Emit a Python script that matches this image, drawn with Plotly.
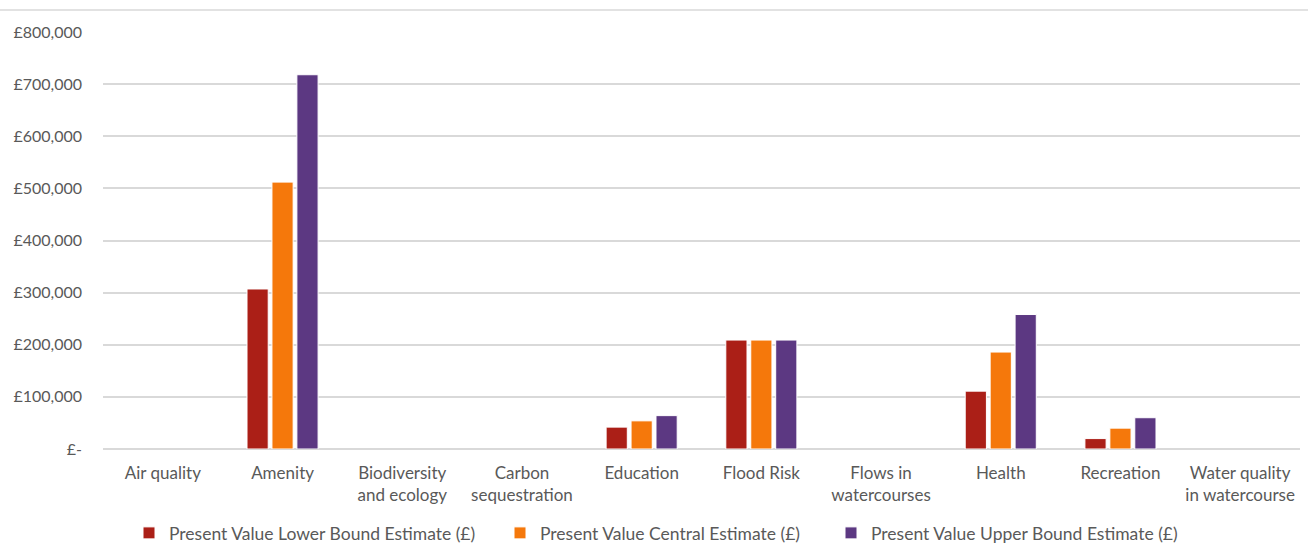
import plotly.graph_objects as go

categories = ["Air quality", "Amenity", "Biodiversity<br>and ecology", "Carbon<br>sequestration",
              "Education", "Flood Risk", "Flows in<br>watercourses", "Health", "Recreation",
              "Water quality<br>in watercourse"]
lower = [None, 307000, None, None, 42000, 209000, None, 111000, 20000, None]
central = [None, 512000, None, None, 54000, 209000, None, 186000, 40000, None]
upper = [None, 718000, None, None, 64000, 209000, None, 258000, 60000, None]
series_names = ["Present Value Lower Bound Estimate (£)",
                "Present Value Central Estimate (£)",
                "Present Value Upper Bound Estimate (£)"]
colors = ["#AB1F17", "#F5780B", "#5C3882"]
tick_vals = [0, 100000, 200000, 300000, 400000, 500000, 600000, 700000, 800000]
tick_text = ["£-", "£100,000", "£200,000", "£300,000", "£400,000", "£500,000",
             "£600,000", "£700,000", "£800,000"]

W, H = 1308, 545
ml, mr, mt, mb = 103, 8, 32, 96
pw, ph = W - ml - mr, H - mt - mb

legend_px = [141, 512, 843]
legend_ids = ["legend", "legend2", "legend3"]

fig = go.Figure()
for name, vals, c, lid in zip(series_names, [lower, central, upper], colors, legend_ids):
    fig.add_trace(go.Bar(x=categories, y=vals, name=name, legend=lid,
                         marker=dict(color=c, line=dict(color="#FFFFFF", width=1))))

legend_common = dict(orientation="h", y=(449 - 533) / ph, yanchor="middle", xanchor="left",
                     font=dict(size=17.5, color="#595959"), bgcolor="rgba(0,0,0,0)")
legends = {}
for lid, px in zip(legend_ids, legend_px):
    legends[lid] = dict(x=(px - ml - 12) / pw, **legend_common)

fig.update_layout(
    width=W, height=H,
    margin=dict(l=ml, r=mr, t=mt, b=mb, autoexpand=False),
    plot_bgcolor="white", paper_bgcolor="white",
    font=dict(family="Lato, Carlito, sans-serif", size=16, color="#595959"),
    barmode="group", bargap=0.375, bargroupgap=0.15,
    showlegend=True,
    xaxis=dict(showgrid=False, showline=False, ticks="", tickfont=dict(size=17),
               automargin=False, ticklabelstandoff=12),
    yaxis=dict(range=[0, 800000], tickvals=tick_vals, ticktext=tick_text,
               showgrid=True, gridcolor="#D9D9D9", gridwidth=1.5,
               zeroline=True, zerolinecolor="#D9D9D9", zerolinewidth=1.5,
               showline=False, ticks="", ticklabelstandoff=20, tickfont=dict(size=16),
               automargin=False),
    shapes=[dict(type="line", xref="paper", yref="paper",
                 x0=-ml / pw, x1=1 + mr / pw, y0=1 + 22 / ph, y1=1 + 22 / ph,
                 line=dict(color="#D9D9D9", width=1.5))],
    **legends,
)

fig.write_html("out.html")
